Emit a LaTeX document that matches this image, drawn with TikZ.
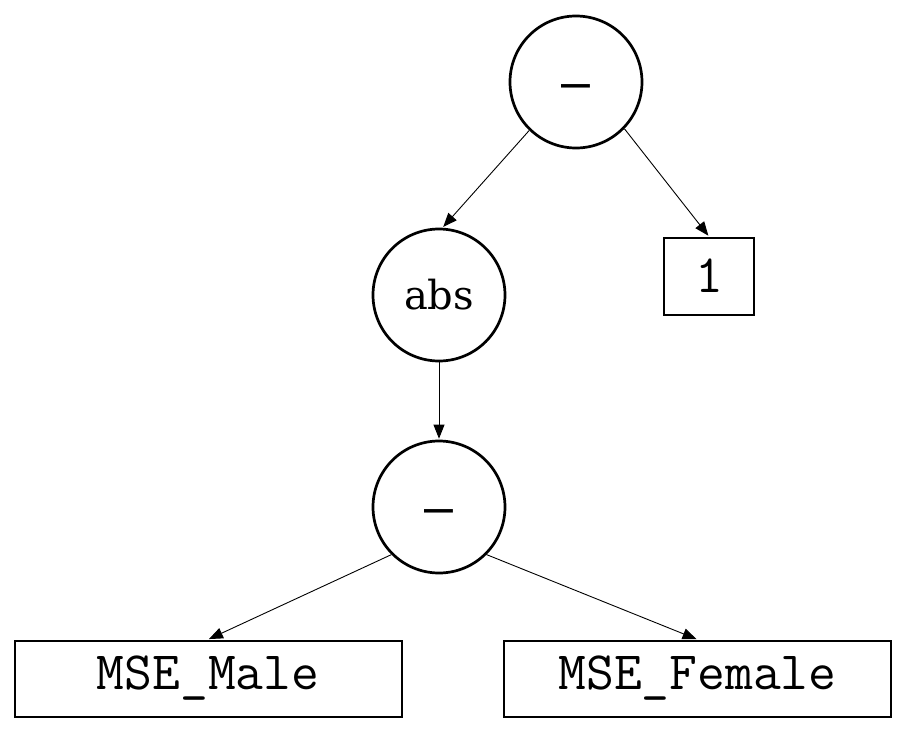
\documentclass[tikz,border=0pt]{standalone}
\usepackage{fontspec}
\newfontfamily\opfont{DejaVu Serif}
\newfontfamily\dashfont{Liberation Sans}
\usetikzlibrary{arrows.meta, positioning}
\tikzset{%
    opnode/.style = {draw=black, circle, line width=2.7pt,
        minimum size=132pt, inner sep=0pt},
    leaf/.style = {draw=black, rectangle, line width=2pt,
        minimum height=76pt, inner sep=0pt,
        font=\fontsize{54}{62}\selectfont\ttfamily},
    line/.style = {draw=black, line width=0.9pt,
        -{Triangle[length=14pt, width=11pt]}, shorten >=1pt},
}
\newcommand{\opdash}{\raisebox{-17pt}[0pt][0pt]{\fontsize{52}{60}\selectfont\dashfont –}}

\begin{document}
\begin{tikzpicture}[x=1pt, y=1pt, on grid]
    \useasboundingbox (0,0) rectangle (903,-729);
    \node [opnode] (top) at (576,-82) {\opdash};
    \node [opnode, below left=213pt and 137pt of top,
        font=\fontsize{40}{48}\selectfont\opfont] (abs) {abs};
    \path [line] (top.226) -- (abs.87);
    \node [leaf, minimum width=90pt, minimum height=77pt,
        below right=194pt and 133pt of top] (one) {1};
    \path [line] (top.316) -- (one.north);
    \node [opnode, below=212pt of abs] (minus) {\opdash};
    \path [line] (abs.south) -- (minus.north);
    \node [leaf, minimum width=387pt,
        below left=171.5pt and 231pt of minus] (male) {MSE\_Male};
    \path [line] (minus.225) -- (male.north);
    \node [leaf, minimum width=387pt,
        below right=171.5pt and 258.5pt of minus] (female) {MSE\_Female};
    \path [line] (minus.315) -- (female.north);
\end{tikzpicture}
\end{document}
